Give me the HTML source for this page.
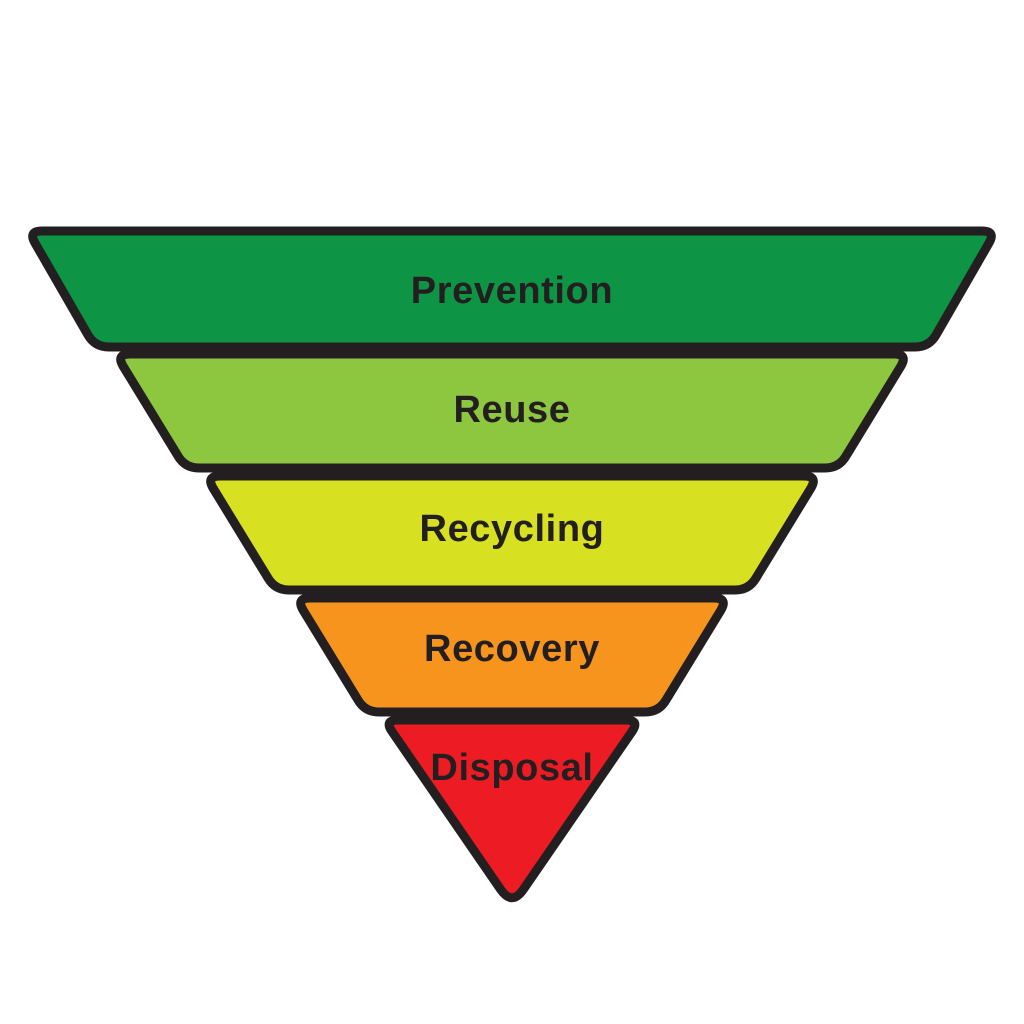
<!DOCTYPE html>
<html><head><style>
html,body{margin:0;padding:0;background:#fff;}
svg{display:block;}
text{font-family:"Liberation Sans",Arial,sans-serif;font-weight:bold;font-size:38px;letter-spacing:0.6px;fill:#231f20;text-anchor:middle;}
</style></head><body>
<svg width="1024" height="1024" viewBox="0 0 1024 1024">
<g stroke="#231f20" stroke-width="9" stroke-linejoin="round">
<path d="M42,231 L982,231 Q996,231 989,243 L936,335 Q929,347 915,347 L109,347 Q95,347 88,335 L35,243 Q28,231 42,231Z" fill="#0e9445"/>
<path d="M130,354 L894,354 Q908,354 901,366 L846,456 Q839,468 825,468 L199,468 Q185,468 178,456 L123,366 Q116,354 130,354Z" fill="#8dc63f"/>
<path d="M220,476 L804,476 Q818,476 811,488 L756,578 Q749,590 735,590 L289,590 Q275,590 268,578 L213,488 Q206,476 220,476Z" fill="#d7e021"/>
<path d="M310,598 L714,598 Q728,598 721,610 L666,700 Q659,712 645,712 L379,712 Q365,712 358,700 L303,610 Q296,598 310,598Z" fill="#f7941e"/>
<path d="M398,720 L626,720 Q640,720 632,731.5 L523.3,889.5 Q512,906 500.7,889.5 L392,731.5 Q384,720 398,720Z" fill="#ed1c24"/>
</g>
<text x="512" y="303">Prevention</text>
<text x="512" y="422">Reuse</text>
<text x="512" y="541">Recycling</text>
<text x="512" y="661">Recovery</text>
<text x="512" y="780">Disposal</text>
</svg>
</body></html>
